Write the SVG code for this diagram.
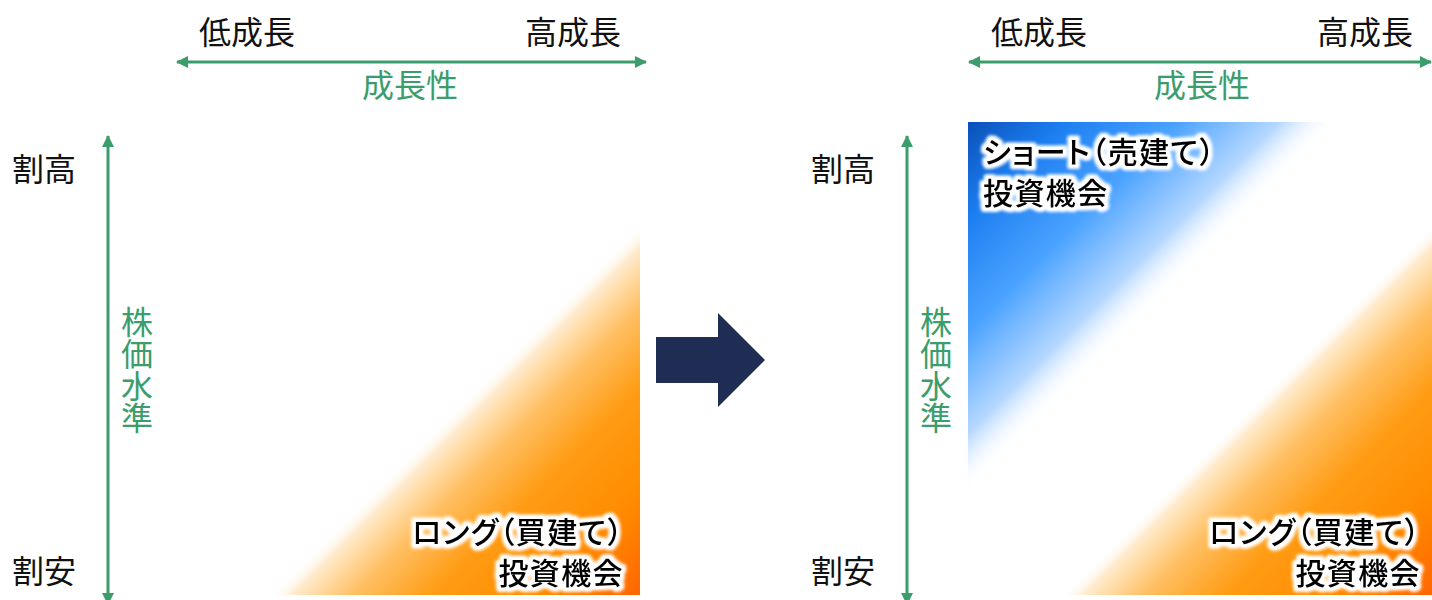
<svg xmlns="http://www.w3.org/2000/svg" width="1432" height="600" viewBox="0 0 1432 600">
  <style>
    .t { font-family: "Noto Sans CJK JP", "Noto Sans", sans-serif; font-size: 32px; fill: #111; }
    .g { font-family: "Noto Sans CJK JP", "Noto Sans", sans-serif; font-size: 32px; fill: #3B9D6B; }
    .v { writing-mode: vertical-rl; text-orientation: upright; }
    .lbl { font-family: "Noto Sans CJK JP", "Noto Sans", sans-serif; font-size: 30px; font-weight: 500; letter-spacing: 1.4px; font-feature-settings: "palt" 1; fill: #000; stroke: #fff; stroke-width: 5px; stroke-linejoin: round; paint-order: stroke; filter: url(#glow); }
    .axis { stroke: #3B9D6B; stroke-width: 3; fill: none; }
  </style>
  <defs>
    <marker id="ah" viewBox="0 0 12 12" refX="11" refY="6" markerWidth="12" markerHeight="12" markerUnits="userSpaceOnUse" orient="auto-start-reverse">
      <path d="M0,0 L12,6 L0,12 Z" fill="#3B9D6B"/>
    </marker>
    <linearGradient id="org" x1="0" y1="0" x2="1" y2="1">
      <stop offset="0.5" stop-color="#ffffff" stop-opacity="0"/>
      <stop offset="0.53" stop-color="#FFEBCC" stop-opacity="1"/>
      <stop offset="0.61" stop-color="#FFC064"/>
      <stop offset="0.72" stop-color="#FF9C14"/>
      <stop offset="0.86" stop-color="#FF8C00"/>
      <stop offset="1" stop-color="#FF6600"/>
    </linearGradient>
    <linearGradient id="blu" x1="0" y1="0" x2="1" y2="1">
      <stop offset="0" stop-color="#0A50B8"/>
      <stop offset="0.13" stop-color="#1C7EF0"/>
      <stop offset="0.28" stop-color="#4AA2FF"/>
      <stop offset="0.42" stop-color="#B6D8FF"/>
      <stop offset="0.5" stop-color="#ffffff" stop-opacity="0"/>
    </linearGradient>
    <filter id="glow" x="-10%" y="-30%" width="120%" height="160%">
      <feMorphology in="SourceAlpha" operator="dilate" radius="2" result="d"/>
      <feGaussianBlur in="d" stdDeviation="1.5" result="b"/>
      <feFlood flood-color="#ffffff"/>
      <feComposite in2="b" operator="in" result="w"/>
      <feMerge><feMergeNode in="w"/><feMergeNode in="SourceGraphic"/></feMerge>
    </filter>
  </defs>

  <g id="left-panel">
    <rect id="left-long-area" x="270" y="225" width="370" height="370" fill="url(#org)"/>
    <text class="t" x="199" y="44">低成長</text>
    <text class="t" x="525" y="44">高成長</text>
    <text class="g" x="410" y="97" text-anchor="middle">成長性</text>
    <text class="t" x="12" y="181">割高</text>
    <text class="t" x="12" y="583">割安</text>
    <text class="g v" x="137" y="306">株価水準</text>
    <text class="lbl" x="624" y="543" text-anchor="end">ロング（買建て）</text>
    <text class="lbl" x="624" y="584" text-anchor="end">投資機会</text>
  </g>

  <g id="transition-arrow">
    <polygon points="656,337 718,337 718,313 765,360 718,407 718,383 656,383" fill="#1F2D55"/>
  </g>

  <g id="right-panel">
    <rect id="right-short-area" x="968" y="122" width="372" height="372" fill="url(#blu)"/>
    <rect id="right-long-area" x="1062" y="225" width="370" height="370" fill="url(#org)"/>
    <text class="t" x="991" y="44">低成長</text>
    <text class="t" x="1317" y="44">高成長</text>
    <text class="g" x="1202" y="97" text-anchor="middle">成長性</text>
    <text class="t" x="811" y="181">割高</text>
    <text class="t" x="811" y="583">割安</text>
    <text class="g v" x="936" y="306">株価水準</text>
    <text class="lbl" x="983" y="163">ショート（売建て）</text>
    <text class="lbl" x="983" y="204">投資機会</text>
    <text class="lbl" x="1421" y="543" text-anchor="end">ロング（買建て）</text>
    <text class="lbl" x="1421" y="584" text-anchor="end">投資機会</text>
  </g>

  <g id="connectors">
    <line class="axis" x1="177" y1="62" x2="646" y2="62" marker-start="url(#ah)" marker-end="url(#ah)"/>
    <line class="axis" x1="108" y1="136" x2="108" y2="604" marker-start="url(#ah)" marker-end="url(#ah)"/>
    <line class="axis" x1="969" y1="62" x2="1431" y2="62" marker-start="url(#ah)" marker-end="url(#ah)"/>
    <line class="axis" x1="907" y1="136" x2="907" y2="604" marker-start="url(#ah)" marker-end="url(#ah)"/>
  </g>
</svg>
